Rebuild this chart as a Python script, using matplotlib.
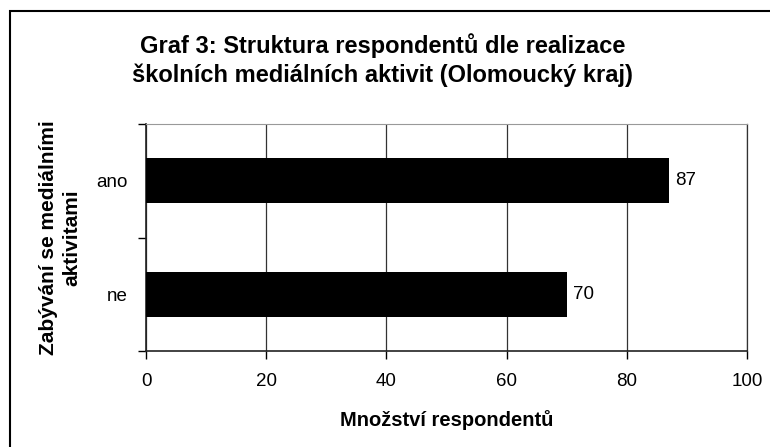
import matplotlib.pyplot as plt
from matplotlib.patches import Rectangle

plt.rcParams['font.family'] = ['Liberation Sans', 'DejaVu Sans']

categories = ['ne', 'ano']
values = [70, 87]
xticks = [0, 20, 40, 60, 80, 100]

fig = plt.figure(figsize=(7.70, 4.47), dpi=100)
ax = fig.add_axes([146/770, 1 - 351/447, 601/770, 227/447])

pos = list(range(len(categories)))
ax.barh(pos, values, height=0.4, color='black', zorder=3)
for p, v in zip(pos, values):
    ax.text(v + 1.0, p, str(v), va='center', ha='left', fontsize=13.5)

ax.set_xlim(0, 100)
ax.set_ylim(-0.5, 1.5)
ax.set_xticks(xticks)
ax.set_xticklabels([str(t) for t in xticks], fontsize=13.5)
ax.set_yticks(pos)
ax.set_yticklabels(categories, fontsize=13.5)
ax.set_yticks([-0.5, 0.5, 1.5], minor=True)
ax.tick_params(axis='y', which='major', length=0, pad=13)
ax.tick_params(axis='y', which='minor', length=6, width=1, direction='out')
ax.tick_params(axis='x', length=6, width=1, direction='out', pad=10)
ax.xaxis.grid(True, color='#333333', linewidth=0.9, zorder=0)

for s in ['left', 'bottom']:
    ax.spines[s].set_linewidth(1.2)
    ax.spines[s].set_color('#222222')
ax.spines['top'].set_color('#999999')
ax.spines['right'].set_color('#333333')
ax.spines['right'].set_linewidth(0.9)

ax.set_xlabel('Množství respondentů', fontsize=14.5, fontweight='bold', labelpad=14)
ax.set_ylabel('Zabývání se mediálními\naktivitami', fontsize=15,
              fontweight='bold', labelpad=11, linespacing=1.3)

fig.text(0.497, 1 - 60/447, 'Graf 3: Struktura respondentů dle realizace\n'
         'školních mediálních aktivit (Olomoucký kraj)',
         ha='center', va='center', fontsize=17, fontweight='bold', linespacing=1.33)

fig.patches.append(Rectangle((10/770, -0.1), 1.1, 1 - 11/447 + 0.1,
                             transform=fig.transFigure, fill=False,
                             edgecolor='black', linewidth=1.5))

fig.savefig('out.png', dpi=100)
